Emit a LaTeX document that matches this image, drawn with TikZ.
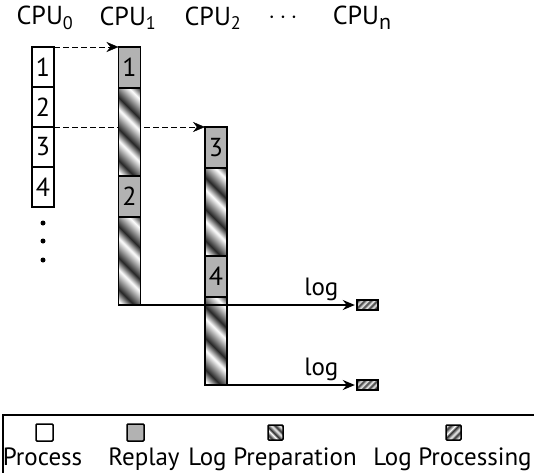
\documentclass[tikz,border=0pt]{standalone}
\usepackage{fontspec}
\setmainfont{PT Sans}
\usetikzlibrary{positioning,arrows.meta,backgrounds}
\pgfdeclarehorizontalshading{stripes}{100bp}{color(0bp)=(black!85); color(5bp)=(white); color(8bp)=(black!85); color(13bp)=(white); color(16bp)=(black!85); color(21bp)=(white); color(24bp)=(black!85); color(29bp)=(white); color(32bp)=(black!85); color(37bp)=(white); color(40bp)=(black!85); color(45bp)=(white); color(48bp)=(black!85); color(53bp)=(white); color(56bp)=(black!85); color(61bp)=(white); color(64bp)=(black!85); color(69bp)=(white); color(72bp)=(black!85); color(77bp)=(white); color(80bp)=(black!85); color(85bp)=(white); color(88bp)=(black!85); color(93bp)=(white); color(96bp)=(black!85); color(100bp)=(gray!60)}
\begin{document}
\begin{tikzpicture}[x=1pt, y=-1pt, line width=1.8pt,
    seg/.style = {draw, minimum width=22pt, inner sep=0pt, outer sep=0pt, font=\fontsize{26}{26}\selectfont},
    proc/.style = {seg, fill=white, minimum height=40pt},
    replay/.style = {seg, fill=gray!60, minimum height=41pt},
    striped/.style 2 args = {path picture={\shade[shading=stripes, shading angle=#1] (path picture bounding box.center) ++(-#2,-#2) rectangle ++(2*#2,2*#2);}},
    prep/.style = {seg, minimum height=88pt, striped={45}{70}},
    logbox/.style = {draw, minimum width=21pt, minimum height=10pt, inner sep=0pt, line width=1.4pt, striped={-45}{14}},
    icon/.style = {draw, minimum size=17pt, inner sep=0pt, line width=1.5pt, rounded corners=1pt},
    dot/.style = {circle, fill, inner sep=0pt, minimum size=5pt},
    cpulbl/.style = {font=\fontsize{26}{26}\selectfont, inner sep=0pt},
    lbl/.style = {font=\fontsize{25}{25}\selectfont, inner sep=0pt},
    keylbl/.style = {font=\fontsize{25}{25}\selectfont, inner sep=0pt, anchor=base},
    flow/.style = {-{Stealth[length=12pt,width=10pt]}},
    handoff/.style = {flow, dash pattern=on 6pt off 3pt}]
  \useasboundingbox (0,0) rectangle (534,472);

  % CPU headings
  \node[cpulbl] (cpu0) at (45,18) {CPU\textsubscript{0}};
  \node[cpulbl] (cpu1) at (128,18) {CPU\textsubscript{1}};
  \node[cpulbl] (cpu2) at (213,18) {CPU\textsubscript{2}};
  \node[cpulbl] (cdots) at (283,18) {$\cdots$};
  \node[cpulbl] (cpun) at (362,18) {CPU\raisebox{-5pt}{\fontsize{22}{22}\selectfont n}};

  % CPU0: process
  \node[proc] (p1) at (43,67) {1};
  \node[proc, below=0pt of p1] (p2) {2};
  \node[proc, below=0pt of p2] (p3) {3};
  \node[proc, below=0pt of p3] (p4) {4};
  \foreach \y [count=\i] in {223,241,260}
    \node[dot] (d\i) at (43,\y) {};

  % CPU1: replay and log preparation
  \node[replay] (r1) at (129.5,67.5) {1};
  \node[prep, below=0pt of r1] (l1) {};
  \node[replay, below=0pt of l1] (r2) {2};
  \node[prep, below=0pt of r2] (l2) {};

  % CPU2
  \node[replay] (r3) at (216,147.5) {3};
  \node[prep, below=0pt of r3] (l3) {};
  \node[replay, below=0pt of l3] (r4) {4};
  \node[prep, below=0pt of r4] (l4) {};

  \begin{scope}[on background layer]
    \draw[handoff] (p1.north east) -- (r1.north west);
    \draw[handoff] (p3.north east) -- (r3.north west);
  \end{scope}

  % log output
  \node[logbox] (g1) at (367.5,305) {};
  \node[logbox] (g2) at (367.5,385) {};
  \draw[flow, shorten >=1.5pt] (l2.south west) -- (g1.west);
  \draw[flow, shorten >=1.5pt] (l4.south west) -- (g2.west);
  \node[lbl, above left=3pt and 17pt of g1.west] (t1) {log};
  \node[lbl, above left=3pt and 17pt of g2.west] (t2) {log};

  % legend
  \draw (3,415) rectangle (540,480);
  \node[icon, fill=white] (kproc) at (44.5,432.5) {};
  \node[icon, fill=gray!60] (krep) at (135.5,432.5) {};
  \node[icon, minimum size=15pt, striped={45}{18}] (kprep) at (275.5,432.5) {};
  \node[icon, minimum size=15pt, striped={-45}{18}] (klog) at (453.5,432.5) {};
  \node[keylbl] (tproc) at (42.5,465) {Process};
  \node[keylbl] (trep) at (144,465) {Replay};
  \node[keylbl] (tprep) at (272.5,465) {Log Preparation};
  \node[keylbl] (tlog) at (452.5,465) {Log Processing};
\end{tikzpicture}
\end{document}
